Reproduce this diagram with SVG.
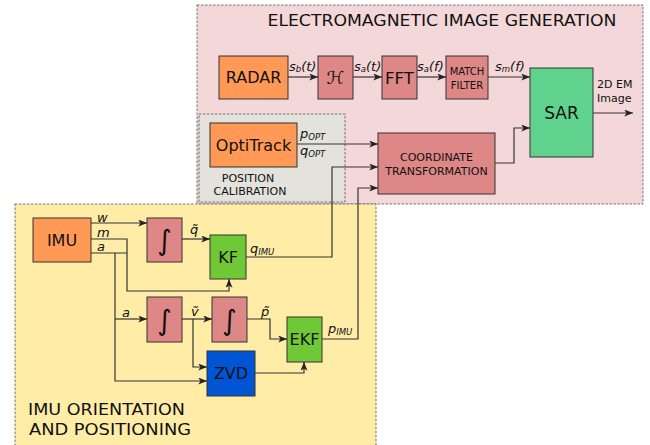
<svg xmlns="http://www.w3.org/2000/svg" width="650" height="445" viewBox="0 0 650 445">
  <defs>
    <marker id="arrow" viewBox="0 0 10 8" refX="10" refY="4" markerWidth="9" markerHeight="7" markerUnits="userSpaceOnUse" orient="auto">
      <path d="M0,0 L10,4 L0,8 L2.5,4 Z" fill="#222"/>
    </marker>
  </defs>
  <style>
    text { font-family: "DejaVu Sans", Verdana, sans-serif; fill: #111; }
    .region { stroke: #555; stroke-width: 0.8; stroke-dasharray: 2.5 1.5; }
    .box { stroke: #333; stroke-width: 1; }
    .orange { fill: #ff9955; }
    .rose { fill: #de8787; }
    .sar { fill: #5fd38d; }
    .kf { fill: #71c837; }
    .blue { fill: #0055d4; }
    .big { font-size: 16px; text-anchor: middle; }
    .small { font-size: 11px; text-anchor: middle; }
    .math { font-size: 13px; font-style: italic; }
    .sub { font-size: 8.5px; }
    .integral { font-size: 28px; font-style: italic; text-anchor: middle; }
    .wire { fill: none; stroke: #333; stroke-width: 1.2; }
    .arr { marker-end: url(#arrow); }
  </style>

  <!-- regions -->
  <g id="em-region">
    <rect class="region" x="197" y="5" width="446" height="199" fill="#f4d7d8"/>
    <text x="442" y="26" font-size="16" text-anchor="middle" textLength="349" lengthAdjust="spacingAndGlyphs">ELECTROMAGNETIC IMAGE GENERATION</text>
  </g>
  <g id="calibration-region">
    <rect class="region" x="199" y="114" width="146" height="88" fill="#e3e2dc"/>
    <text class="small" x="248" y="182">POSITION</text>
    <text class="small" x="250" y="195">CALIBRATION</text>
  </g>
  <g id="imu-region">
    <rect class="region" x="15" y="204" width="361" height="250" fill="#ffeca6"/>
    <text x="28" y="415" font-size="16" textLength="157" lengthAdjust="spacingAndGlyphs">IMU ORIENTATION</text>
    <text x="29" y="435" font-size="16" textLength="162" lengthAdjust="spacingAndGlyphs">AND POSITIONING</text>
  </g>

  <!-- connectors -->
  <g id="connectors">
    <path class="wire arr" d="M288,77 H318"/>
    <path class="wire arr" d="M353,77 H382"/>
    <path class="wire arr" d="M417,77 H446"/>
    <path class="wire arr" d="M488,77 H530"/>
    <path class="wire arr" d="M593,113 H633"/>
    <path class="wire arr" d="M297,144 H378"/>
    <path class="wire arr" d="M495,163 H514 V128 H530"/>
    <path class="wire arr" d="M246,257 H332 V167 H378"/>
    <path class="wire arr" d="M322,339 H358 V188 H378"/>
    <path class="wire arr" d="M91,223 H147"/>
    <path class="wire arr" d="M91,239 H127 V291 H229 V279"/>
    <path class="wire" d="M91,253 H127"/>
    <path class="wire arr" d="M115,253 V381 H207"/>
    <path class="wire arr" d="M115,319 H147"/>
    <path class="wire arr" d="M182,239 H210"/>
    <path class="wire arr" d="M182,319 H212"/>
    <path class="wire arr" d="M193,319 V367 H207"/>
    <path class="wire arr" d="M247,319 H270 V339 H287"/>
    <path class="wire arr" d="M255,373 H304 V362"/>

    <!-- signal labels -->
    <text class="math" x="289" y="71">s<tspan class="sub" dy="1">b</tspan><tspan dy="-1">(t)</tspan></text>
    <text class="math" x="354" y="71">s<tspan class="sub" dy="1">a</tspan><tspan dy="-1">(t)</tspan></text>
    <text class="math" x="417" y="71">s<tspan class="sub" dy="1">a</tspan><tspan dy="-1">(f)</tspan></text>
    <text class="math" x="495" y="71">s<tspan class="sub" dy="1">m</tspan><tspan dy="-1">(f)</tspan></text>
    <text x="597" y="88" font-size="11">2D EM</text>
    <text x="597" y="102" font-size="11">Image</text>
    <text class="math" x="300" y="138">p<tspan class="sub" dy="2">OPT</tspan></text>
    <text class="math" x="300" y="155">q<tspan class="sub" dy="2">OPT</tspan></text>
    <text class="math" x="97" y="222">w</text>
    <text class="math" x="97" y="237">m</text>
    <text class="math" x="97" y="251">a</text>
    <text class="math" x="190" y="234">q̃</text>
    <text class="math" x="250" y="253">q<tspan class="sub" dy="2">IMU</tspan></text>
    <text class="math" x="122" y="317">a</text>
    <text class="math" x="191" y="316">ṽ</text>
    <text class="math" x="261" y="316">p̃</text>
    <text class="math" x="328" y="333">p<tspan class="sub" dy="2">IMU</tspan></text>
  </g>

  <!-- nodes -->
  <g id="radar">
    <rect class="box orange" x="219" y="56" width="69" height="43"/>
    <text class="big" x="253.5" y="83">RADAR</text>
  </g>
  <g id="hilbert">
    <rect class="box rose" x="318" y="56" width="35" height="43"/>
    <text x="335.5" y="84" font-size="18" font-style="italic" text-anchor="middle" font-family="DejaVu Serif, serif">ℋ</text>
  </g>
  <g id="fft">
    <rect class="box rose" x="382" y="56" width="35" height="43"/>
    <text x="399.5" y="84" font-size="16.5" text-anchor="middle">FFT</text>
  </g>
  <g id="match-filter">
    <rect class="box rose" x="446" y="56" width="42" height="43"/>
    <text x="467" y="75" font-size="10" text-anchor="middle">MATCH</text>
    <text x="467" y="89" font-size="10" text-anchor="middle">FILTER</text>
  </g>
  <g id="sar">
    <rect class="box sar" x="530" y="68" width="63" height="89"/>
    <text x="561.5" y="119" font-size="17" text-anchor="middle">SAR</text>
  </g>
  <g id="optitrack">
    <rect class="box orange" x="210" y="123" width="87" height="44"/>
    <text class="big" x="253.5" y="151">OptiTrack</text>
  </g>
  <g id="coordinate-transformation">
    <rect class="box rose" x="378" y="133" width="117" height="61"/>
    <text class="small" x="436.5" y="161">COORDINATE</text>
    <text class="small" x="436.5" y="175">TRANSFORMATION</text>
  </g>
  <g id="imu">
    <rect class="box orange" x="33" y="218" width="58" height="44"/>
    <text class="big" x="62" y="246">IMU</text>
  </g>
  <g id="integrator-q">
    <rect class="box rose" x="147" y="218" width="35" height="44"/>
    <text class="integral" x="164.5" y="250">∫</text>
  </g>
  <g id="kf">
    <rect class="box kf" x="210" y="235" width="36" height="44"/>
    <text class="big" x="228" y="263">KF</text>
  </g>
  <g id="integrator-v">
    <rect class="box rose" x="147" y="297" width="35" height="45"/>
    <text class="integral" x="164.5" y="330">∫</text>
  </g>
  <g id="integrator-p">
    <rect class="box rose" x="212" y="297" width="35" height="45"/>
    <text class="integral" x="229.5" y="330">∫</text>
  </g>
  <g id="ekf">
    <rect class="box kf" x="287" y="317" width="35" height="45"/>
    <text class="big" x="304.5" y="345">EKF</text>
  </g>
  <g id="zvd">
    <rect class="box blue" x="207" y="351" width="48" height="45"/>
    <text class="big" x="231" y="379">ZVD</text>
  </g>
</svg>
